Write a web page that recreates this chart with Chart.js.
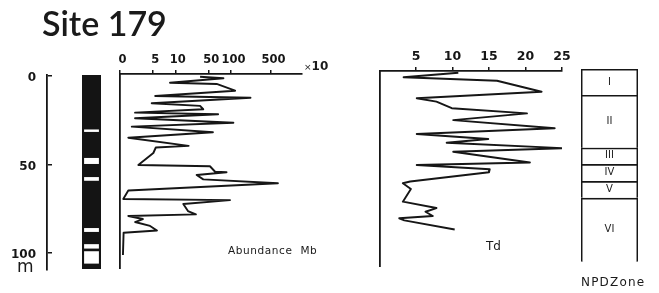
<!DOCTYPE html>
<html>
<head>
<meta charset="utf-8">
<script src="https://cdn.jsdelivr.net/npm/chart.js@4.4.0/dist/chart.umd.min.js"></script>
<style>
  html, body { margin: 0; padding: 0; background: #fff; }
  #wrap { position: relative; width: 659px; height: 293px; overflow: hidden; font-family: "DejaVu Sans", sans-serif; color: #1a1a1a; }
  #wrap canvas { position: absolute; left: 0; top: 0; }
  .lbl { position: absolute; white-space: nowrap; line-height: 1; }
</style>
</head>
<body>
<div id="wrap">
  <canvas id="cDepth" width="659" height="293"></canvas>
  <canvas id="cLith" width="659" height="293"></canvas>
  <canvas id="cAbund" width="659" height="293"></canvas>
  <canvas id="cTd" width="659" height="293"></canvas>
  <canvas id="cZone" width="659" height="293"></canvas>

  <div class="lbl" style="left:42px;top:6px;font-family:Lato,sans-serif;font-size:34px;font-weight:600;">Site 179</div>
  <div class="lbl" style="left:304px;top:57px;"><span style="font-size:9px;">×</span><span style="font-size:12px;font-weight:bold;">10</span></div>
  <div class="lbl" style="left:17px;top:258px;font-size:17px;">m</div>
  <div class="lbl" style="left:228px;top:245px;font-size:10.5px;letter-spacing:0.6px;">Abundance&nbsp; Mb</div>
  <div class="lbl" style="left:486px;top:240px;font-size:12px;">Td</div>
  <div class="lbl" style="left:581px;top:276px;font-size:12px;letter-spacing:1.2px;">NPDZone</div>
</div>

<script>
/* ---- data (depth in m) ---- */

// depth axis
const depthTicks = [0, 50, 100];

// lithology column: black core with white bands
const lithTop = -0.6;
const lithBottom = 109;
const bandTop = [30.2, 46.3, 57.1, 85.9, 95.0, 99.0];
const bandBottom = [31.6, 49.7, 59.2, 88.1, 97.5, 106.0];

// abundance (x10), log-like axis
const abTicks = [0, 5, 10, 50, 100, 500];
const abDepth = [0.4, 1.3, 3.8, 4.5, 8.3, 11.3, 12.3, 15.4, 16.9, 18.8,
                 20.7, 21.6, 23.9, 26.4, 28.6, 31.8, 34.9, 39.5, 40.4, 43.5,
                 50.3, 51.0, 54.1, 54.4, 55.9, 58.4, 60.6, 64.7, 69.5, 70.1,
                 72.3, 76.3, 78.2, 79.1, 80.8, 82.5, 84.7, 87.3, 88.6, 101.1];
const abValue = [33, 79, 8.5, 64, 118, 5.4, 219, 4.85, 33, 38.5,
                 2.3, 67, 2.3, 110, 1.8, 57, 1.27, 19, 5.5, 5.1,
                 2.8, 52, 61, 87, 28, 38.5, 660, 1.27, 0.5, 97,
                 14.7, 18.4, 27, 1.27, 3.5, 2.3, 4.6, 5.7, 0.55, 0.45];

// Td
const tdTicks = [5, 10, 15, 20, 25];
const tdDepth = [-1.8, 0.7, 2.7, 8.9, 12.6, 14.5, 18.2, 21.1, 24.9, 29.5,
                 32.8, 35.6, 37.7, 40.8, 42.8, 48.9, 50.3, 52.7, 54.4, 59.6,
                 60.6, 63.8, 71.0, 74.6, 76.7, 79.1, 80.4, 81.6, 86.7];
const tdValue = [10.8, 3.3, 16.1, 22.2, 5.1, 7.8, 9.9, 20.2, 10.1, 24.0,
                 5.1, 14.9, 9.2, 25.2, 10.1, 20.6, 5.1, 15.1, 15.0, 4.2,
                 3.2, 4.3, 3.2, 7.8, 6.3, 7.3, 2.7, 3.4, 10.3];

// NPD zones
const zoneName = ["I", "II", "III", "IV", "V", "VI"];
const zoneTop = [-4.0, 10.7, 40.5, 49.7, 59.3, 68.8];
const zoneBottom = [10.7, 40.5, 49.7, 59.3, 68.8, 105.0];

/* ---- layout helpers ---- */
const W = 659, H = 293;
const INK = "#161616";
const Y0 = 76, PX_PER_M = 1.77;              // page y of 0 m, pixels per metre
const depthAt = (y) => (y - Y0) / PX_PER_M;
const AXIS_BOX = 30;                         // room given to labelled axes

// tick positions (pixels from the left edge) of the abundance axis
const abTickPos = [0, 32.7, 55.3, 88.7, 111, 151];
function abPos(v) {
  for (let i = 1; i < abTicks.length; i++) {
    if (v <= abTicks[i] || i === abTicks.length - 1) {
      const a = abTicks[i - 1], b = abTicks[i];
      const f = a === 0 ? v / b : Math.log(v / a) / Math.log(b / a);
      return abTickPos[i - 1] + f * (abTickPos[i] - abTickPos[i - 1]);
    }
  }
}

Chart.defaults.font.family = '"DejaVu Sans", sans-serif';
Chart.defaults.color = INK;
Chart.defaults.animation = false;

// pin an axis box to a fixed size so the chart area lands on exact pixels
const fitTo = (n) => (s) => { if (s.isHorizontal()) s.height = n; else s.width = n; };

function base(pad, scales, extra = {}) {
  return {
    responsive: false,
    layout: { padding: { left: pad[0], top: pad[1], right: W - pad[2], bottom: H - pad[3] } },
    plugins: { legend: { display: false }, tooltip: { enabled: false } },
    scales,
    ...extra,
  };
}

function depthScale(t, b, extra = {}) {
  return {
    type: "linear", reverse: true, min: depthAt(t), max: depthAt(b), afterFit: fitTo(0),
    ticks: { display: false },
    grid: { drawOnChartArea: false, drawTicks: false },
    border: { display: true, color: INK, width: 1.8 },
    ...extra,
  };
}

function curve(depths, xs) {
  return {
    data: depths.map((d, i) => ({ x: xs[i], y: d })),
    showLine: true, borderColor: INK, borderWidth: 1.9, pointRadius: 0,
    tension: 0, fill: false, borderJoinStyle: "round",
  };
}

/* ---- depth axis ---- */
new Chart(document.getElementById("cDepth"), {
  type: "scatter",
  data: { datasets: [] },
  options: base([0, 75, 52, 270], {
    x: { display: false, min: 0, max: 1 },
    y: depthScale(75, 270, {
      afterFit: fitTo(47),
      afterBuildTicks: (s) => { s.ticks = depthTicks.map((v) => ({ value: v })); },
      ticks: { display: true, font: { size: 12, weight: "bold" }, padding: 11, labelOffset: 2 },
      grid: { drawOnChartArea: true, drawTicks: false, color: INK, lineWidth: 1.5 },
    }),
  }),
});

/* ---- lithology column ---- */
new Chart(document.getElementById("cLith"), {
  type: "bar",
  data: {
    labels: ["lith"],
    datasets: [
      ...bandTop.map((t, i) => ({ data: [[t, bandBottom[i]]], backgroundColor: "#fff", barPercentage: 0.78 })),
      { data: [[lithTop, lithBottom]], backgroundColor: "#141414", barPercentage: 1 },
    ],
  },
  options: base([82, 75, 101, 269], {
    x: { display: false },
    y: { display: false, reverse: true, min: depthAt(75), max: depthAt(269) },
  }, { datasets: { bar: { grouped: false, categoryPercentage: 1 } } }),
});

/* ---- abundance ---- */
new Chart(document.getElementById("cAbund"), {
  type: "scatter",
  data: { datasets: [curve(abDepth, abValue.map(abPos))] },
  options: base([120, 74 - AXIS_BOX, 302, 268], {
    x: {
      type: "linear", position: "top", min: 0, max: 182, afterFit: fitTo(AXIS_BOX),
      afterBuildTicks: (s) => { s.ticks = abTicks.map((v) => ({ value: abPos(v) })); },
      ticks: { callback: (v, i) => abTicks[i], autoSkip: false, maxRotation: 0, font: { size: 11.5, weight: "bold" }, padding: 3, labelOffset: 2.5 },
      grid: { drawOnChartArea: false, tickLength: 4, color: INK, lineWidth: 1.5 },
      border: { color: INK, width: 1.8 },
    },
    y: depthScale(74, 268),
  }),
});

/* ---- Td ---- */
new Chart(document.getElementById("cTd"), {
  type: "scatter",
  data: { datasets: [curve(tdDepth, tdValue)] },
  options: base([379.5, 71 - AXIS_BOX, 562, 266], {
    x: {
      type: "linear", position: "top", min: 0, max: 25, afterFit: fitTo(AXIS_BOX),
      afterBuildTicks: (s) => { s.ticks = tdTicks.map((v) => ({ value: v })); },
      ticks: { autoSkip: false, maxRotation: 0, font: { size: 12.5, weight: "bold" }, padding: 3 },
      grid: { drawOnChartArea: false, tickLength: 4, color: INK, lineWidth: 1.5 },
      border: { color: INK, width: 1.8 },
    },
    y: depthScale(71, 266),
  }),
});

/* ---- NPD zones ---- */
const zoneLabels = {
  id: "zoneLabels",
  afterDatasetsDraw(chart) {
    const ctx = chart.ctx;
    ctx.save();
    ctx.font = '10px "DejaVu Sans"';
    ctx.fillStyle = "#222";
    ctx.textAlign = "center";
    ctx.textBaseline = "middle";
    chart.data.datasets.forEach((ds, i) => {
      const c = chart.getDatasetMeta(i).data[0].getCenterPoint();
      ctx.fillText(ds.label, c.x, c.y);
    });
    ctx.restore();
  },
};

new Chart(document.getElementById("cZone"), {
  type: "bar",
  data: {
    labels: ["zone"],
    datasets: zoneName.map((n, i) => ({
      label: n,
      data: [[zoneTop[i], zoneBottom[i]]],
      backgroundColor: "#fff",
      borderColor: INK,
      borderWidth: { top: 2, left: 1.8, right: 1.8, bottom: 0 },
      borderSkipped: false,
    })),
  },
  options: base([581, 69, 638, 262], {
    x: { display: false },
    y: { display: false, reverse: true, min: depthAt(69), max: depthAt(262) },
  }, { datasets: { bar: { grouped: false, categoryPercentage: 1, barPercentage: 1 } } }),
  plugins: [zoneLabels],
});
</script>
</body>
</html>
